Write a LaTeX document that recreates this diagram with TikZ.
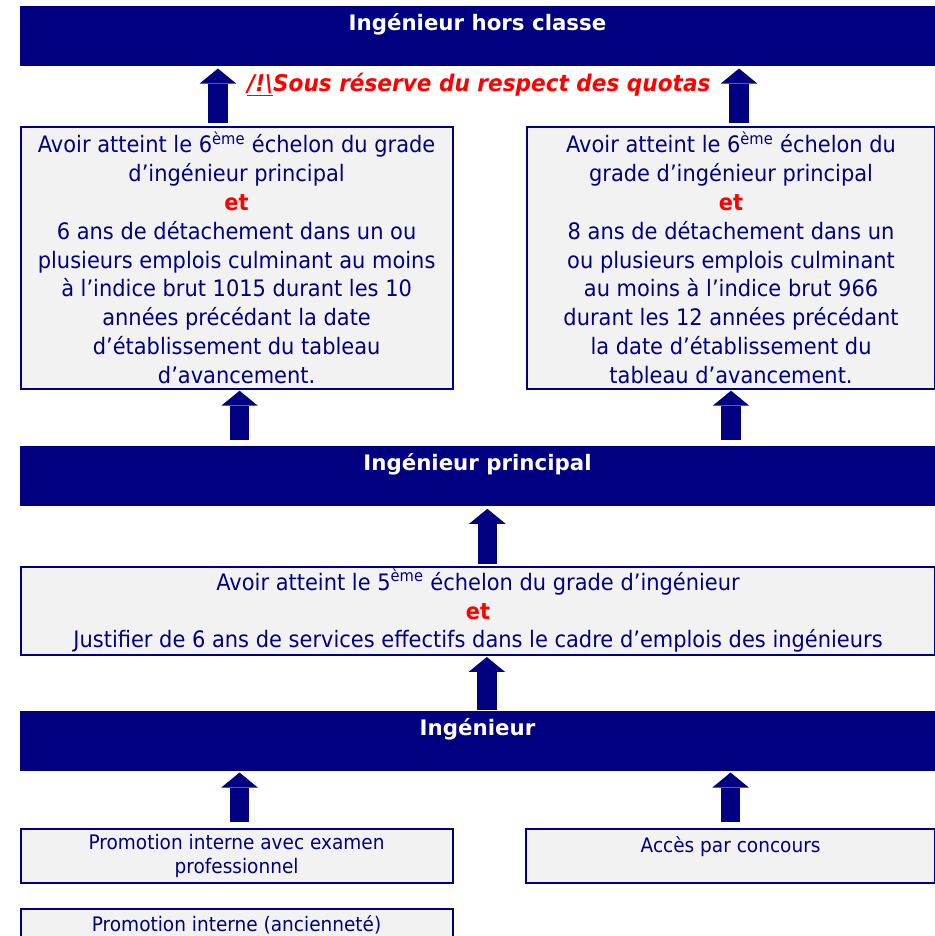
\documentclass[tikz,border=0pt]{standalone}
\usepackage{fontspec}
\setmainfont{DejaVu Sans}
\newfontfamily\critfont{DejaVu Sans}[FakeStretch=0.925]
\newfontfamily\gradefont{DejaVu Sans}
\newfontfamily\quotafont{DejaVu Sans}[FakeStretch=0.94]
\usetikzlibrary{arrows.meta}
\definecolor{navyblue}{RGB}{0,0,128}
\definecolor{boxgray}{RGB}{242,242,242}
\definecolor{quotared}{RGB}{255,0,0}
\newcommand{\et}{\textcolor{quotared}{\textbf{et}}}
\tikzset{
	grade/.style={anchor=north west, fill=navyblue, text=white, inner sep=0pt, minimum width=686.6pt, text height=18.5pt, text depth=26.5pt, font=\gradefont\bfseries\fontsize{16pt}{19pt}\selectfont},
	crit/.style={anchor=north west, draw=navyblue, line width=1.5pt, fill=boxgray, text=navyblue, align=center, inner sep=0pt, font=\critfont\fontsize{17pt}{21.6pt}\selectfont},
	access/.style={crit, minimum width=323.85pt, minimum height=41pt, font=\critfont\fontsize{15pt}{18pt}\selectfont},
	upward/.style={draw=navyblue, line width=14.6pt, -{Triangle[width=27.4pt,length=11.25pt,line width=0pt]}}
}
\begin{document}
\begin{tikzpicture}[x=0.75pt,y=-0.75pt]
		\clip (0,0) rectangle (935,936);
			% grades
			\node[grade] (hc) at (19.5,6) {Ingénieur hors classe};
			\node[grade] (pr) at (19.5,446) {Ingénieur principal};
			\node[grade] (ing) at (19.5,711) {Ingénieur};
			\node[anchor=base, text=quotared, font=\quotafont\bfseries\itshape\fontsize{17.25pt}{20pt}\selectfont] (quota) at (479,91.7) {\underline{/!\textbackslash}Sous réserve du respect des quotas};
			% conditions
			\node[crit, minimum width=323.85pt, minimum height=196.5pt] (lcrit) at (19.7,125.7) {Avoir atteint le 6\textsuperscript{ème} échelon du grade\\ d’ingénieur principal\\ \et\\ 6 ans de détachement dans un ou\\ plusieurs emplois culminant au moins\\ à l’indice brut 1015 durant les 10\\ années précédant la date\\ d’établissement du tableau\\ d’avancement.};
			\node[crit, minimum width=306.5pt, minimum height=196.5pt] (rcrit) at (525.7,125.7) {Avoir atteint le 6\textsuperscript{ème} échelon du\\ grade d’ingénieur principal\\ \et\\ 8 ans de détachement dans un\\ ou plusieurs emplois culminant\\ au moins à l’indice brut 966\\ durant les 12 années précédant\\ la date d’établissement du\\ tableau d’avancement.};
			\node[crit, minimum width=686pt, minimum height=66.2pt] (mid) at (19.7,565.7) {Avoir atteint le 5\textsuperscript{ème} échelon du grade d’ingénieur\\ \et\\ Justifier de 6 ans de services effectifs dans le cadre d’emplois des ingénieurs};
			% acces
			\node[access] (exam) at (19.7,827.7) {Promotion interne avec examen\\ professionnel};
			\node[access, minimum width=307.3pt, text height=17.5pt, text depth=23.5pt] (conc) at (524.7,827.7) {Accès par concours};
			\node[access, text height=15.2pt, text depth=22.5pt] (anc) at (19.7,907.7) {Promotion interne (ancienneté)};
			% arrows
			\draw[upward, shorten <=2pt, shorten >=1.5pt] ([xshift=-14pt]lcrit.north) -- ([xshift=-14pt]lcrit.north |- hc.south);
			\draw[upward, shorten <=2pt, shorten >=1.5pt] ([xshift=6pt]rcrit.north) -- ([xshift=6pt]rcrit.north |- hc.south);
			\draw[upward, shorten <=4.5pt, shorten >=0.75pt] ([xshift=2.2pt]lcrit.south |- pr.north) -- ([xshift=2.2pt]lcrit.south);
			\draw[upward, shorten <=4.5pt, shorten >=0.75pt] (rcrit.south |- pr.north) -- (rcrit.south);
			\draw[upward, shorten <=1.3pt, shorten >=1.7pt] ([xshift=7pt]mid.north) -- ([xshift=7pt]mid.north |- pr.south);
			\draw[upward, shorten <=0.75pt, shorten >=0.75pt] ([xshift=7pt]ing.north) -- ([xshift=7pt]ing.north |- mid.south);
			\draw[upward, shorten <=4.5pt, shorten >=0.75pt] ([xshift=2.2pt]exam.north) -- ([xshift=2.2pt]exam.north |- ing.south);
			\draw[upward, shorten <=4.5pt, shorten >=0.75pt] (conc.north) -- (conc.north |- ing.south);
	\end{tikzpicture}
\end{document}
